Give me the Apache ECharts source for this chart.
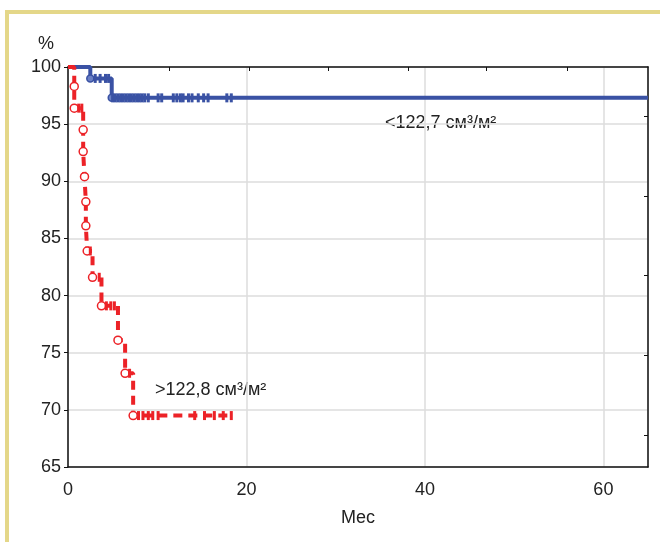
<!DOCTYPE html>
<html lang="ru">
  <head>
    <meta charset="UTF-8" />
    <title>Выживаемость</title>
    <script src="https://cdn.jsdelivr.net/npm/echarts@6/dist/echarts.min.js"></script>
    <style>
      html, body { margin: 0; padding: 0; background: #fff; }
      #main { width: 660px; height: 542px; }
    </style>
  </head>
  <body>
    <div id="main"></div>
  </body>
  <script>
    // оси
    const xTicks = [0, 20, 40, 60];
    const yTicks = [65, 70, 75, 80, 85, 90, 95, 100];
    // <122,7 см3/м2
    const blueTime = [0, 2.5, 4.9, 65];
    const blueSurv = [100, 99.0, 97.3, 97.3];
    const blueCensor = [
      [3.05, 99.0], [3.6, 99.0], [4.2, 99.0], [4.55, 99.0],
      [5.0, 97.3], [5.3, 97.3], [5.6, 97.3], [5.9, 97.3], [6.2, 97.3], [6.5, 97.3],
      [6.8, 97.3], [7.1, 97.3], [7.4, 97.3], [7.7, 97.3], [8.0, 97.3], [8.3, 97.3],
      [8.6, 97.3], [9.0, 97.3], [10.1, 97.3], [10.5, 97.3], [11.8, 97.3], [12.2, 97.3],
      [12.6, 97.3], [12.9, 97.3], [13.5, 97.3], [13.9, 97.3], [14.6, 97.3], [15.2, 97.3],
      [15.7, 97.3], [17.8, 97.3], [18.3, 97.3],
    ];
    // >122,8 см3/м2
    const redTime = [0, 0.7, 0.7, 1.7, 1.7, 1.85, 2.0, 2.0, 2.15, 2.75, 3.75, 5.6, 6.4, 7.3, 18.5];
    const redSurv = [100, 98.3, 96.4, 94.5, 92.6, 90.4, 88.2, 86.1, 83.9, 81.6, 79.1, 76.1, 73.2, 69.5, 69.5];
    const redCensor = [
      [1.2, 96.4], [1.55, 96.4], [2.5, 83.9], [3.5, 81.6],
      [4.3, 79.1], [4.8, 79.1], [5.2, 79.1], [6.9, 73.2],
      [7.9, 69.5], [8.4, 69.5], [9.0, 69.5], [9.5, 69.5], [10.1, 69.5],
      [14.2, 69.5], [15.3, 69.5], [16.4, 69.5], [17.4, 69.5], [18.3, 69.5],
    ];
    // метки на верхней и правой рамке
    const topTicks = [11.4, 20.3, 29.2, 38.1, 46.9, 55.9];
    const rightTicks = [95.7, 88.7, 81.8, 74.8, 67.8];

    const blueColor = "#3a52a4";
    const redColor = "#ec2227";
    const font = "'Liberation Sans', Arial, sans-serif";

    function zip(t, s) {
      return t.map(function (x, i) {
        return [x, s[i]];
      });
    }
    // точки событий (без начала и конца)
    function events(t, s) {
      return zip(t, s).slice(1, t.length - 1);
    }

    var myChart = echarts.init(document.getElementById("main"));
    var option = {
      animation: false,
      backgroundColor: "#fff",
      textStyle: { fontFamily: font },
      grid: { left: 68, top: 67, right: 12, bottom: 75 },
      graphic: [
        // рамка
        { type: "rect", shape: { x: 5, y: 10, width: 655, height: 4 }, style: { fill: "#e4d789" } },
        { type: "rect", shape: { x: 5, y: 10, width: 4, height: 532 }, style: { fill: "#e4d789" } },
        { type: "text", left: 38, top: 35, style: { text: "%", font: "18px " + font, fill: "#222" } },
        { type: "text", left: 385, top: 114, style: { text: "<122,7 см³/м²", font: "18px " + font, fill: "#222" } },
        { type: "text", left: 155, top: 381, style: { text: ">122,8 см³/м²", font: "18px " + font, fill: "#222" } },
      ],
      xAxis: [
        {
          type: "value",
          min: 0,
          max: 65,
          interval: 20,
          name: "Мес",
          nameLocation: "middle",
          nameGap: 42,
          nameTextStyle: { fontSize: 18, color: "#222", fontFamily: font },
          axisLine: { onZero: false, lineStyle: { color: "#111", width: 1.5 } },
          axisTick: { show: false },
          axisLabel: { fontSize: 18, color: "#222", margin: 14, fontFamily: font,
            customValues: xTicks },
          splitLine: { show: true, lineStyle: { color: "#dcdcdc", width: 1.5 } },
        },
        {
          type: "value",
          position: "top",
          min: 0,
          max: 65,
          axisLine: { show: true, onZero: false, lineStyle: { color: "#111", width: 1.5 } },
          axisTick: { show: true, inside: true, length: 4, customValues: topTicks, lineStyle: { color: "#111" } },
          axisLabel: { show: false },
          splitLine: { show: false },
        },
      ],
      yAxis: [
        {
          type: "value",
          min: 65,
          max: 100,
          interval: 5,
          axisLine: { show: true, onZero: false, lineStyle: { color: "#111", width: 1.5 } },
          axisTick: { show: true, length: 4, lineStyle: { color: "#111" } },
          axisLabel: { fontSize: 18, color: "#222", margin: 7, fontFamily: font,
            customValues: yTicks },
          splitLine: { show: true, lineStyle: { color: "#dcdcdc", width: 1.5 } },
        },
        {
          type: "value",
          position: "right",
          min: 65,
          max: 100,
          axisLine: { show: true, onZero: false, lineStyle: { color: "#111", width: 1.5 } },
          axisTick: { show: true, inside: true, length: 4, customValues: rightTicks, lineStyle: { color: "#111" } },
          axisLabel: { show: false },
          splitLine: { show: false },
        },
      ],
      series: [
        {
          type: "line",
          step: "end",
          data: zip(blueTime, blueSurv),
          showSymbol: false,
          lineStyle: { color: blueColor, width: 4 },
          z: 3,
        },
        {
          type: "scatter",
          data: events(blueTime, blueSurv),
          symbol: "circle",
          symbolSize: 7,
          itemStyle: { color: "#6a7fc4", borderColor: blueColor, borderWidth: 1.5, opacity: 1 },
          z: 4,
        },
        {
          type: "scatter",
          data: blueCensor,
          symbol: "rect",
          symbolSize: [3, 9],
          itemStyle: { color: blueColor, opacity: 1 },
          z: 4,
        },
        {
          type: "line",
          step: "end",
          data: zip(redTime, redSurv),
          showSymbol: false,
          lineStyle: { color: redColor, width: 4, type: [9, 6] },
          z: 5,
        },
        {
          type: "scatter",
          data: events(redTime, redSurv),
          symbol: "circle",
          symbolSize: 8,
          itemStyle: { color: "#fff", borderColor: redColor, borderWidth: 1.5, opacity: 1 },
          z: 6,
        },
        {
          type: "scatter",
          data: redCensor,
          symbol: "rect",
          symbolSize: [3, 9],
          itemStyle: { color: redColor, opacity: 1 },
          z: 6,
        },
      ],
    };
    myChart.setOption(option);
  </script>
</html>
